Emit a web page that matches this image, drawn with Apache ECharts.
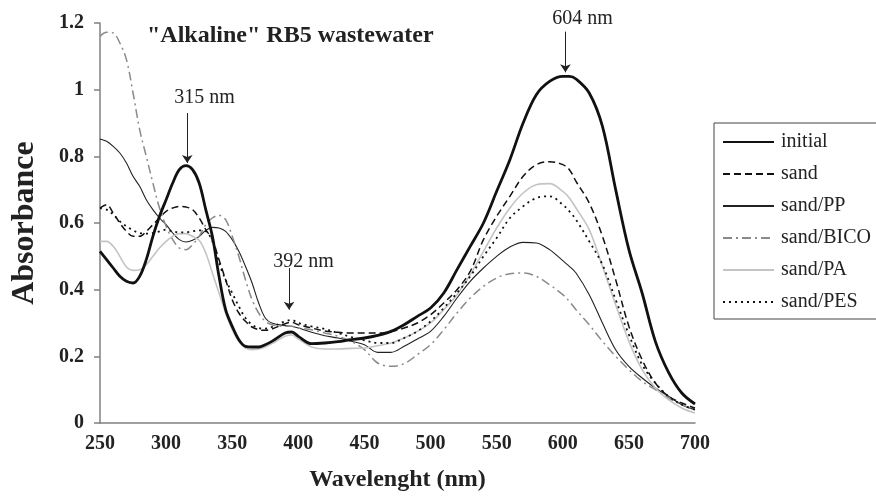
<!DOCTYPE html>
<html>
<head>
<meta charset="utf-8">
<script src="https://cdn.jsdelivr.net/npm/echarts@6/dist/echarts.min.js"></script>
<style>
  html, body { margin: 0; padding: 0; background: #fff; }
  #chart { width: 876px; height: 497px; }
</style>
</head>
<body>
<div id="chart"></div>
<script>
'use strict';

// ── Data ──────────────────────────────────────────────────────────────────────
const wavelength = [250,255,260,265,270,275,280,285,290,295,300,305,310,315,320,325,330,335,340,345,
                    350,355,360,365,370,375,380,390,395,400,410,420,430,440,450,460,470,480,490,500,
                    510,520,530,540,550,560,570,580,590,600,605,610,620,630,640,650,660,670,680,690,700];

const initial = [0.515,0.49,0.465,0.44,0.425,0.42,0.44,0.49,0.56,0.62,0.67,0.72,0.76,0.772,0.76,0.72,0.64,0.56,0.44,0.34,
                 0.29,0.25,0.23,0.228,0.228,0.235,0.245,0.27,0.273,0.26,0.238,0.24,0.244,0.25,0.255,0.263,0.275,0.295,0.32,0.345,
                 0.39,0.46,0.53,0.6,0.695,0.79,0.9,0.985,1.025,1.04,1.04,1.032,0.99,0.89,0.7,0.52,0.39,0.245,0.152,0.09,0.057];

const sand = [0.645,0.655,0.63,0.6,0.575,0.56,0.56,0.575,0.595,0.615,0.635,0.645,0.65,0.648,0.64,0.615,0.58,0.55,0.49,0.43,
              0.37,0.33,0.305,0.288,0.28,0.278,0.282,0.298,0.302,0.295,0.285,0.276,0.272,0.27,0.27,0.27,0.274,0.285,0.3,0.325,
              0.36,0.4,0.455,0.55,0.62,0.68,0.74,0.775,0.784,0.775,0.76,0.725,0.66,0.56,0.43,0.29,0.19,0.12,0.08,0.06,0.045];

const sandPP = [0.852,0.845,0.83,0.81,0.78,0.74,0.71,0.67,0.64,0.615,0.595,0.57,0.55,0.543,0.548,0.56,0.578,0.587,0.585,0.575,
                0.55,0.515,0.47,0.42,0.36,0.315,0.3,0.292,0.29,0.285,0.272,0.262,0.255,0.245,0.235,0.212,0.212,0.23,0.252,0.275,
                0.32,0.375,0.425,0.465,0.5,0.528,0.542,0.54,0.52,0.487,0.47,0.45,0.385,0.3,0.22,0.17,0.135,0.105,0.08,0.055,0.04];

const sandBICO = [1.16,1.172,1.17,1.14,1.09,0.99,0.88,0.8,0.72,0.645,0.59,0.55,0.525,0.52,0.535,0.56,0.595,0.615,0.623,0.61,
                  0.56,0.5,0.43,0.37,0.33,0.305,0.295,0.29,0.29,0.285,0.28,0.27,0.26,0.245,0.22,0.18,0.17,0.178,0.205,0.235,
                  0.28,0.33,0.375,0.41,0.435,0.448,0.45,0.44,0.415,0.385,0.365,0.34,0.295,0.245,0.2,0.16,0.125,0.1,0.075,0.055,0.04];

const sandPA = [0.545,0.545,0.53,0.5,0.468,0.458,0.46,0.475,0.5,0.525,0.545,0.56,0.568,0.568,0.56,0.548,0.51,0.45,0.39,0.33,
                0.28,0.245,0.225,0.22,0.222,0.228,0.238,0.26,0.264,0.252,0.228,0.222,0.222,0.224,0.225,0.232,0.24,0.255,0.275,0.3,
                0.34,0.385,0.445,0.515,0.585,0.645,0.69,0.715,0.718,0.695,0.675,0.645,0.58,0.47,0.355,0.245,0.16,0.105,0.07,0.045,0.03];

const sandPES = [0.645,0.64,0.625,0.605,0.59,0.578,0.57,0.568,0.57,0.575,0.58,0.575,0.572,0.572,0.575,0.578,0.575,0.545,0.48,0.43,
                 0.39,0.35,0.315,0.295,0.285,0.283,0.288,0.305,0.309,0.3,0.29,0.282,0.27,0.258,0.248,0.24,0.24,0.255,0.275,0.305,
                 0.345,0.39,0.44,0.5,0.555,0.615,0.65,0.675,0.68,0.655,0.635,0.61,0.545,0.475,0.37,0.265,0.175,0.12,0.08,0.055,0.04];

// annotations: [label, arrow x, arrow top, arrow tip, label x, label y, label dy(px)]
const peakNotes = [
  ['315 nm', 316, 0.93, 0.78, 329, 0.977, 0],
  ['392 nm', 393, 0.465, 0.34, 404, 0.483, 0],
  ['604 nm', 602, 1.174, 1.052, 615, 1.2, -4],
];

const FONT = '"Liberation Serif", "Times New Roman", serif';
const AXIS_COLOR = '#808080';

// ── Helpers ───────────────────────────────────────────────────────────────────
const pairs = vals => wavelength.map((w, i) => [w, vals[i]]);

function lineSeries(name, vals, color, width, type) {
  return {
    name, type: 'line', data: pairs(vals),
    symbol: 'none', smooth: 0.35,
    lineStyle: { color, width, type },
    itemStyle: { color },
    z: name === 'initial' ? 5 : 3,
    animation: false,
  };
}

// ── Chart ─────────────────────────────────────────────────────────────────────
const chart = echarts.init(document.getElementById('chart'), null, { renderer: 'canvas' });

chart.setOption({
  backgroundColor: '#fff',
  animation: false,
  title: {
    text: '"Alkaline" RB5 wastewater',
    left: 142, top: 19,
    textStyle: { fontFamily: FONT, fontSize: 24, fontWeight: 'bold', color: '#222' },
  },
  grid: { left: 100, right: 181, top: 23, bottom: 74, outerBoundsMode: 'none', containLabel: false },
  legend: {
    orient: 'vertical',
    left: 714, top: 123,
    data: ['initial', 'sand', 'sand/PP', 'sand/BICO', 'sand/PA', 'sand/PES'],
    padding: [9, 40, 7, 8],
    borderColor: '#444', borderWidth: 1,
    itemWidth: 51, itemHeight: 14, itemGap: 12,
    itemStyle: { opacity: 0 },
    textStyle: { fontFamily: FONT, fontSize: 20, color: '#222', padding: [0, 0, 0, 2] },
  },
  xAxis: {
    type: 'value', min: 250, max: 700, interval: 50,
    name: 'Wavelenght (nm)', nameLocation: 'middle', nameGap: 45,
    nameTextStyle: { fontFamily: FONT, fontSize: 24, fontWeight: 'bold', color: '#222' },
    axisLine: { lineStyle: { color: AXIS_COLOR, width: 1.5 } },
    axisTick: { show: false },
    splitLine: { show: false },
    axisLabel: { fontFamily: FONT, fontSize: 20, fontWeight: 'bold', color: '#222', margin: 11 },
  },
  yAxis: {
    type: 'value', min: 0, max: 1.2, interval: 0.2,
    name: 'Absorbance', nameLocation: 'middle', nameGap: 59,
    nameTextStyle: { fontFamily: FONT, fontSize: 32, fontWeight: 'bold', color: '#222' },
    axisLine: { show: true, lineStyle: { color: AXIS_COLOR, width: 1.5 } },
    axisTick: { show: true, inside: false, length: 6, lineStyle: { color: AXIS_COLOR, width: 1.5 } },
    splitLine: { show: false },
    axisLabel: { fontFamily: FONT, fontSize: 20, fontWeight: 'bold', color: '#222', margin: 16 },
  },
  series: [
    lineSeries('initial',   initial,  '#111',    2.8, 'solid'),
    lineSeries('sand',      sand,     '#111',    1.5, [7, 4]),
    lineSeries('sand/PP',   sandPP,   '#222',    1.1, 'solid'),
    lineSeries('sand/BICO', sandBICO, '#8a8a8a', 1.5, [9, 4, 2, 4]),
    lineSeries('sand/PA',   sandPA,   '#c4c4c4', 1.6, 'solid'),
    lineSeries('sand/PES',  sandPES,  '#111',    1.8, [2, 4]),
    // peak annotations (not in legend)
    {
      name: 'notes', type: 'line', data: [], clip: false, silent: true,
      itemStyle: { color: '#222' },
      markLine: {
        silent: true, animation: false,
        symbol: ['none', 'arrow'], symbolSize: 8,
        label: { show: false },
        lineStyle: { color: '#222', width: 1, type: 'solid' },
        data: peakNotes.map(n => [
          { coord: [n[1], n[2]], symbol: 'none' },
          { coord: [n[1], n[3]], symbol: 'arrow', symbolSize: 8 },
        ]),
      },
      markPoint: {
        silent: true, animation: false,
        symbol: 'circle', symbolSize: 0,
        data: peakNotes.map(n => ({
          coord: [n[4], n[5]], value: n[0],
          label: { show: true, position: 'inside', formatter: n[0], offset: [0, n[6]],
                   fontFamily: FONT, fontSize: 20, color: '#222' },
        })),
      },
    },
  ],
});
</script>
</body>
</html>
